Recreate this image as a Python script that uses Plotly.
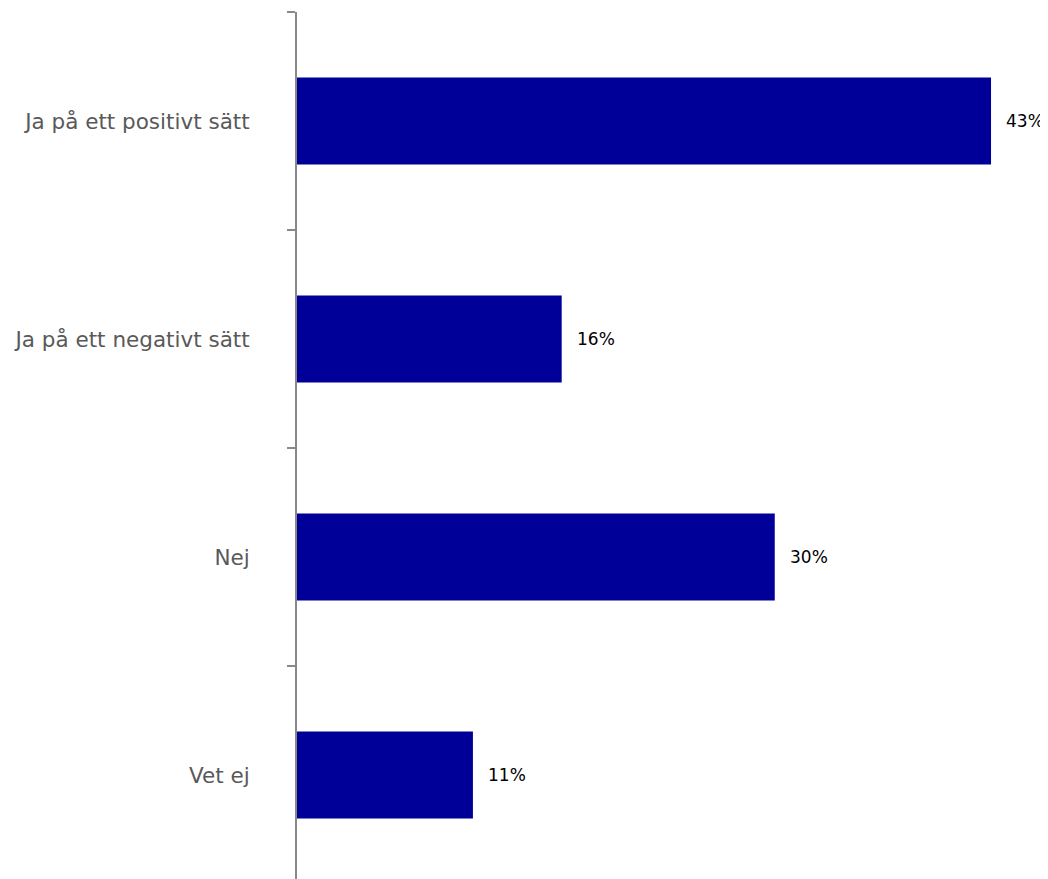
import plotly.graph_objects as go

categories = ["Ja på ett positivt sätt", "Ja på ett negativt sätt", "Nej", "Vet ej"]
values = [43.0, 16.4, 29.6, 10.9]
value_labels = ["43%", "16%", "30%", "11%"]

FONT = "DejaVu Sans"

fig = go.Figure()
fig.add_trace(go.Bar(
    y=categories, x=values, orientation="h",
    marker=dict(color="#000099", line=dict(width=0)),
    hoverinfo="skip",
))

for c, v, t in zip(categories, values, value_labels):
    fig.add_annotation(x=v, y=c, text=t, showarrow=False, xanchor="left",
                       xshift=13, font=dict(family=FONT, size=17, color="#000000"))

fig.update_layout(
    width=1040, height=871,
    margin=dict(l=289, r=0, t=4, b=0),
    paper_bgcolor="white", plot_bgcolor="white",
    bargap=0.6, showlegend=False,
    font=dict(family=FONT),
)
fig.update_xaxes(range=[0, 46.53], visible=False, showgrid=False, zeroline=False)
fig.update_yaxes(
    type="category", categoryorder="array", categoryarray=categories,
    range=[3.477, -0.5],
    showline=True, linecolor="#898989", linewidth=2,
    ticks="outside", tickson="boundaries", ticklen=8, tickcolor="#898989", tickwidth=2,
    tickfont=dict(family=FONT, size=21.5, color="#595959"),
    ticklabelstandoff=41, showgrid=False,
)

fig.write_html("out.html")
